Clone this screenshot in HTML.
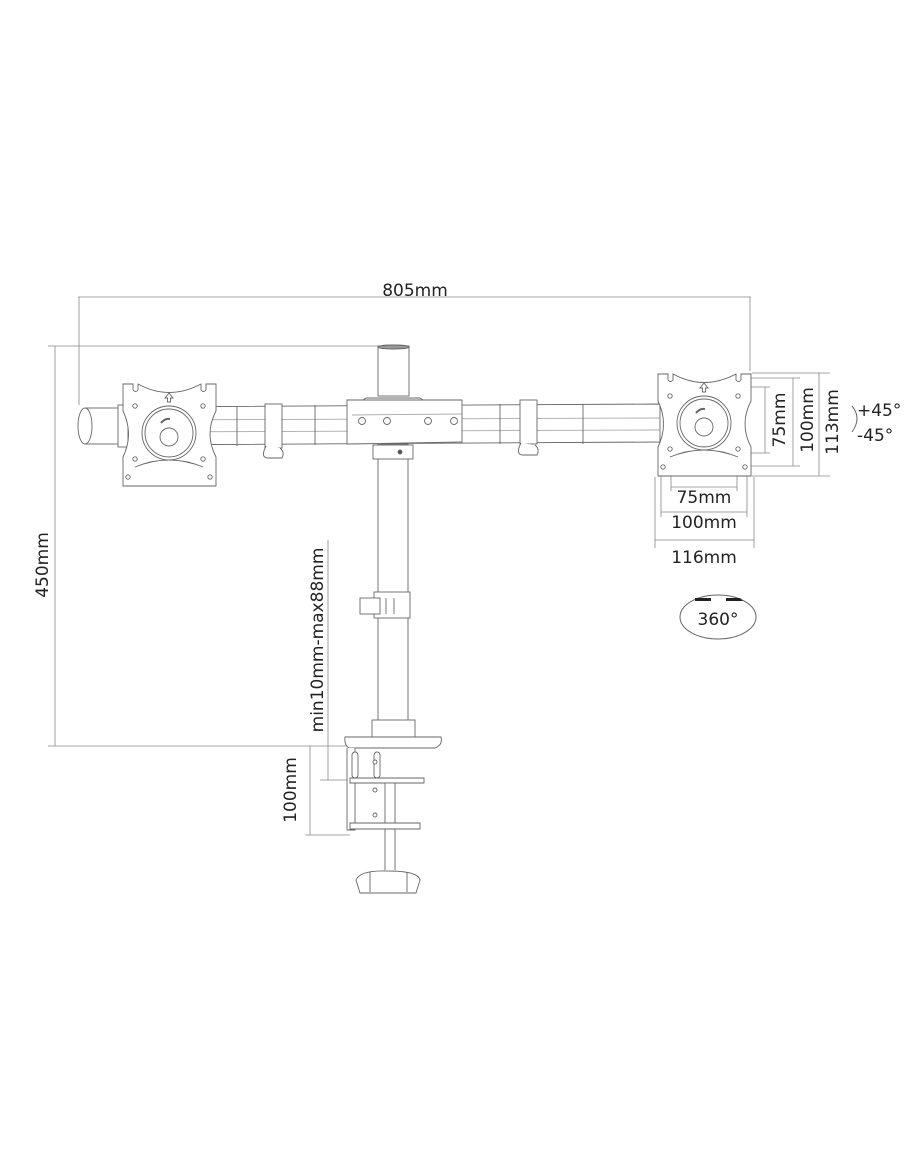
<!DOCTYPE html>
<html><head><meta charset="utf-8"><style>
html,body{margin:0;padding:0;background:#fff;}
svg{display:block;}
text{font-family:"DejaVu Sans","Liberation Sans",sans-serif;fill:#222;}
</style></head><body>
<svg width="910" height="1155" viewBox="0 0 910 1155" xmlns="http://www.w3.org/2000/svg">
<defs>
<g id="plate" fill="#fff" stroke="#666" stroke-width="0.9">
<path d="M2,3 L12,3 L12,9 Q14.5,12 17,9 L17,3 Q48,20 80,3 L80,9 Q82.5,12 85,9 L85,3 L95,3 L95,30 Q83,53 95,76 L95,105 L2,105 L2,76 Q13,53 2,30 Z"/>
<path d="M14,86 Q48,72 82,86" fill="none"/>
<circle cx="48" cy="52" r="27"/><circle cx="48" cy="52" r="24"/><circle cx="48" cy="56" r="9"/>
<path d="M40,42 q4,-5 9,-4" fill="none" stroke-width="2"/>
<path d="M48,12 l-4,5 h2.5 v4 h3 v-4 h2.5 z"/>
<circle cx="14" cy="25" r="2.2"/><circle cx="82" cy="25" r="2.2"/><circle cx="14" cy="78" r="2.2"/><circle cx="82" cy="78" r="2.2"/>
<circle cx="7" cy="96" r="2.2"/><circle cx="89" cy="96" r="2.2"/>
</g>
</defs>
<g stroke="#888" stroke-width="0.8" fill="none">
<line x1="78" y1="297" x2="751" y2="297"/>
<line x1="79" y1="297" x2="79" y2="405"/>
<line x1="750" y1="297" x2="750" y2="371"/>
<line x1="48" y1="346" x2="380" y2="346"/>
<line x1="48" y1="746" x2="348" y2="746"/>
<line x1="55" y1="346" x2="55" y2="746"/>
<line x1="328" y1="540" x2="328" y2="780"/>
<line x1="320" y1="780" x2="360" y2="780"/>
<line x1="310" y1="746" x2="310" y2="835"/>
<line x1="305" y1="835" x2="350" y2="835"/>
<line x1="752" y1="373" x2="830" y2="373"/>
<line x1="752" y1="476" x2="830" y2="476"/>
<line x1="740" y1="387" x2="770" y2="387"/>
<line x1="740" y1="453" x2="770" y2="453"/>
<line x1="748" y1="466" x2="800" y2="466"/>
<line x1="748" y1="378" x2="800" y2="378"/>
<line x1="765" y1="387" x2="765" y2="453"/>
<line x1="793" y1="378" x2="793" y2="466"/>
<line x1="819" y1="373" x2="819" y2="476"/>
<line x1="671" y1="450" x2="671" y2="491"/><line x1="737" y1="450" x2="737" y2="491"/>
<line x1="671" y1="487" x2="737" y2="487"/>
<line x1="661" y1="465" x2="661" y2="517"/><line x1="747" y1="465" x2="747" y2="517"/>
<line x1="661" y1="512" x2="747" y2="512"/>
<line x1="655" y1="477" x2="655" y2="548"/><line x1="754" y1="477" x2="754" y2="548"/>
<line x1="655" y1="540" x2="754" y2="540"/>
</g>
<g stroke="#666" stroke-width="0.9" fill="#fff">
<path d="M125,407 L660,404 L660,442 L125,445 Z"/>
<line x1="125" y1="420" x2="660" y2="418" stroke="#aaa"/>
<line x1="125" y1="432" x2="660" y2="430" stroke="#aaa"/>
<line x1="237" y1="406" x2="237" y2="446"/><line x1="315" y1="405" x2="315" y2="445"/>
<line x1="500" y1="404" x2="500" y2="444"/><line x1="583" y1="404" x2="583" y2="444"/>
<rect x="265" y="404" width="17" height="44"/>
<path d="M266,446 q-6,12 2,12 h14 q3,-6 -2,-10"/>
<rect x="520" y="400" width="17" height="44"/>
<path d="M521,443 q-6,12 2,12 h14 q3,-6 -2,-10"/>
<rect x="86" y="408" width="40" height="36"/>
<ellipse cx="85" cy="426" rx="7" ry="18"/>
<rect x="118" y="405" width="10" height="42"/>
<rect x="378" y="346" width="31" height="50"/>
<ellipse cx="393.5" cy="347" rx="15.5" ry="2" fill="#999"/>
<path d="M366,398 h54 l6,4 h-66 z"/>
<path d="M347,400 L462,400 L462,442 L347,444 Z"/>
<line x1="352" y1="415" x2="462" y2="414" stroke="#aaa"/>
<circle cx="362" cy="421" r="3.5"/><circle cx="387" cy="421" r="3.5"/><circle cx="428" cy="421" r="3.5"/><circle cx="454" cy="421" r="3.5"/>
<rect x="378" y="444" width="30" height="280"/>
<rect x="373" y="445" width="40" height="14"/>
<circle cx="400" cy="452" r="2" fill="#555"/>
<rect x="374" y="592" width="36" height="26"/>
<rect x="360" y="598" width="20" height="16"/>
<line x1="386" y1="598" x2="386" y2="614"/><line x1="394" y1="598" x2="394" y2="614"/>
<rect x="372" y="720" width="43" height="20"/>
<path d="M345,737 h96 q2,8 -6,11 h-86 q-5,-3 -4,-11 z"/>
<path d="M347,748 v82 h8 v-82"/>
<rect x="352" y="752" width="6" height="26" rx="3"/><rect x="374" y="752" width="6" height="26" rx="3"/>
<circle cx="375" cy="762" r="2"/>
<path d="M350,778 h74 v5 h-74 z"/>
<rect x="385" y="783" width="10" height="40"/>
<circle cx="375" cy="790" r="2"/><circle cx="375" cy="815" r="2"/>
<path d="M350,823 h70 v6 h-70 z"/>
<line x1="385" y1="829" x2="385" y2="870"/><line x1="395" y1="829" x2="395" y2="870"/>
<path d="M356,880 q4,-10 32,-9 q30,0 32,9 l-4,13 h-56 z"/>
<line x1="370" y1="872" x2="370" y2="892"/><line x1="407" y1="872" x2="407" y2="892"/>
</g>
<use href="#plate" x="121" y="381"/>
<use href="#plate" x="656" y="371"/>
<g stroke="#666" fill="none">
<path d="M852,406 q10,12 0,26"/>
<ellipse cx="718" cy="617" rx="38" ry="22"/>
</g>
<path d="M695,598 h16 v3 h-16z M726,598 h14 l3,3 h-17z" fill="#222"/>
<text x="415" y="296" font-size="17" text-anchor="middle">805mm</text>
<text transform="translate(48,565) rotate(-90)" font-size="17" text-anchor="middle">450mm</text>
<text transform="translate(323,640) rotate(-90)" font-size="17" text-anchor="middle">min10mm-max88mm</text>
<text transform="translate(296,790) rotate(-90)" font-size="17" text-anchor="middle">100mm</text>
<text transform="translate(785,420) rotate(-90)" font-size="17" text-anchor="middle">75mm</text>
<text transform="translate(813,420) rotate(-90)" font-size="17" text-anchor="middle">100mm</text>
<text transform="translate(838,422) rotate(-90)" font-size="17" text-anchor="middle">113mm</text>
<text x="857" y="416" font-size="17">+45°</text>
<text x="857" y="441" font-size="17">-45°</text>
<text x="704" y="503" font-size="17" text-anchor="middle">75mm</text>
<text x="704" y="528" font-size="17" text-anchor="middle">100mm</text>
<text x="704" y="563" font-size="17" text-anchor="middle">116mm</text>
<text x="718" y="625" font-size="17" text-anchor="middle">360°</text>
</svg>
</body></html>
